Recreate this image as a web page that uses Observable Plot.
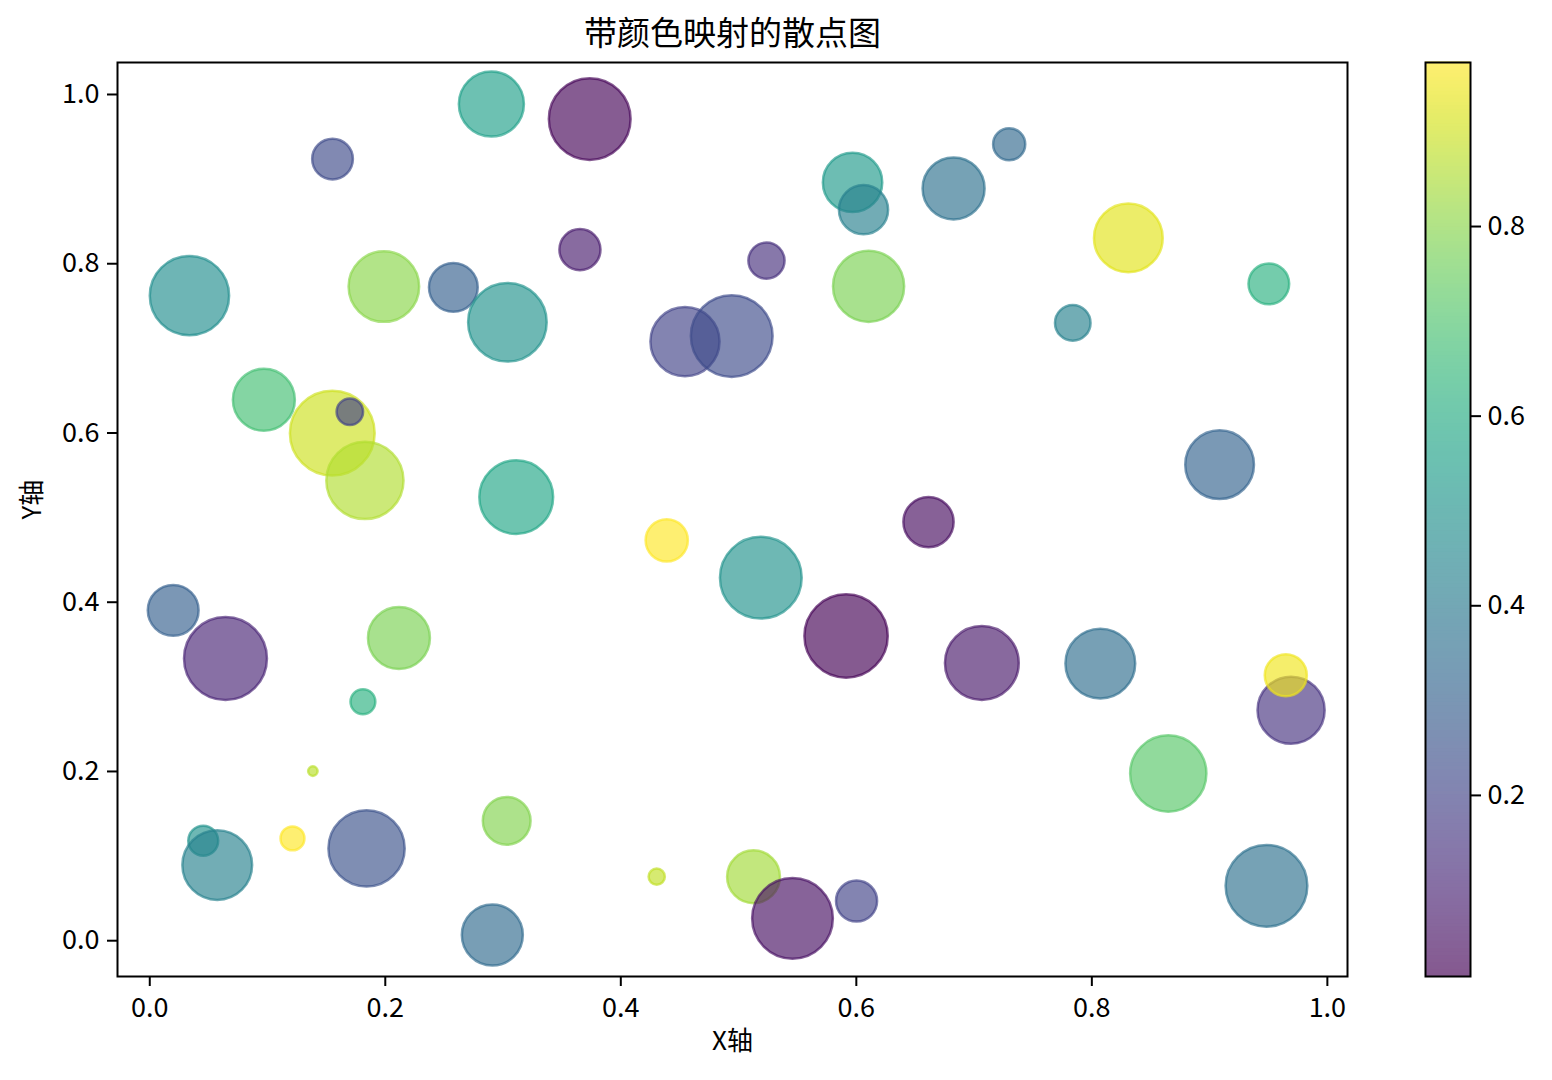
<!DOCTYPE html>
<html><head><meta charset="utf-8">
<script src="https://cdn.jsdelivr.net/npm/d3@7"></script>
<script src="https://cdn.jsdelivr.net/npm/@observablehq/plot@0.6"></script>
<style>
body{margin:0;background:#fff;}
#wrap{position:relative;width:1552px;height:1080px;background:#fff;}
#main{position:absolute;left:0;top:0;}
#cbar{position:absolute;left:1400px;top:0;}
</style></head><body><div id="wrap"><div id="main"></div><div id="cbar"></div></div>
<script>
// ---- data ----
const xs = [0.0337,0.1552,0.2901,0.1988,0.2578,0.3037,0.3736,0.5968,0.6061,0.6826,
            0.7298,0.3653,0.5237,0.6104,0.4545,0.4942,0.8310,0.9503,0.7838,0.0969,
            0.1550,0.1699,0.1827,0.0199,0.0643,0.2116,0.3112,0.1810,0.4390,0.5189,
            0.6613,0.5913,0.7066,0.9085,0.8072,0.9692,0.9647,0.8649,0.9483,0.1385,
            0.0454,0.0573,0.1212,0.1841,0.2909,0.3031,0.4305,0.5127,0.5458,0.6002];
const ys = [0.7623,0.9237,0.9887,0.7730,0.7721,0.7308,0.9710,0.8961,0.8639,0.8890,
            0.9412,0.8167,0.8037,0.7733,0.7080,0.7145,0.8305,0.7762,0.7301,0.6392,
            0.5998,0.6250,0.5439,0.3904,0.3334,0.3577,0.5242,0.2824,0.4731,0.4290,
            0.4947,0.3601,0.3282,0.5625,0.3275,0.2724,0.3137,0.1976,0.0649,0.2004,
            0.1181,0.0894,0.1209,0.1091,0.0067,0.1417,0.0756,0.0756,0.0264,0.0469];
const colors = [0.48,0.22,0.55,0.80,0.30,0.50,0.02,0.53,0.42,0.36,
                0.33,0.08,0.14,0.78,0.20,0.23,0.93,0.62,0.43,0.68,
                0.90,0.20,0.86,0.30,0.10,0.78,0.58,0.62,0.973,0.50,
                0.04,0.009,0.07,0.31,0.35,0.15,0.95,0.72,0.36,0.87,
                0.50,0.43,0.97,0.25,0.34,0.79,0.88,0.84,0.05,0.20];
const sizes = [835,220,562,661,316,820,887,468,321,510,
               137,224,174,672,634,887,627,220,168,510,
               954,93,792,343,913,510,723,82,237,887,
               335,922,723,627,646,598,235,772,887,12,
               119,646,76,772,494,303,35,371,865,224];
const title = "带颜色映射的散点图";
const xLabel = "X轴";
const yLabel = "Y轴";
const xTicks = [0, 0.2, 0.4, 0.6, 0.8, 1.0];
const yTicks = [0, 0.2, 0.4, 0.6, 0.8, 1.0];
const cbarTicks = [0.2, 0.4, 0.6, 0.8];

// ---- build ----
const alpha = 0.65;
const data = xs.map((x, i) => ({x, y: ys[i], c: colors[i], s: sizes[i]}));
const cMin = d3.min(colors), cMax = d3.max(colors);
const font = "'Noto Sans CJK SC', 'Noto Sans', sans-serif";
const colorScale = {type: "linear", scheme: "viridis", domain: [cMin, cMax]};
const fmt = d3.format(".1f");

const main = Plot.plot({
  width: 1400, height: 1080,
  marginLeft: 117, marginRight: 53, marginTop: 62, marginBottom: 104,
  style: {fontFamily: font, fontSize: "27px", color: "#000", background: "#fff", overflow: "visible"},
  x: {domain: [-0.0274, 1.0171]},
  y: {domain: [-0.0423, 1.0378]},
  r: {type: "sqrt", domain: [0, 1000], range: [0, 43.4]},
  color: colorScale,
  marks: [
    Plot.dot(data, {x: "x", y: "y", r: "s", fill: "c", stroke: "c",
      fillOpacity: alpha, strokeOpacity: alpha, strokeWidth: 2.5, sort: null}),
    Plot.frame({stroke: "#000", strokeWidth: 2}),
    Plot.axisX(xTicks, {tickSize: 10, tickPadding: 11, tickFormat: fmt, strokeWidth: 2, fontSize: 27, label: null}),
    Plot.axisY(yTicks, {tickSize: 10, tickPadding: 8, tickFormat: fmt, strokeWidth: 2, fontSize: 27, label: null}),
    Plot.text([title], {frameAnchor: "top", dy: -28, fontSize: 33, lineAnchor: "middle", text: d => d}),
    Plot.text([xLabel], {frameAnchor: "bottom", dy: 65, fontSize: 26, lineAnchor: "middle", text: d => d}),
    Plot.text([yLabel], {frameAnchor: "left", dx: -85, rotate: -90, fontSize: 26, lineAnchor: "middle", text: d => d})
  ]
});
document.getElementById("main").appendChild(main);

const N = 256;
const bands = d3.range(N).map(i => ({
  y1: cMin + (cMax - cMin) * i / N,
  y2: cMin + (cMax - cMin) * (i + 1) / N,
  v: cMin + (cMax - cMin) * (i + 0.5) / N
}));
const cbar = Plot.plot({
  width: 152, height: 1080,
  marginLeft: 25, marginRight: 82, marginTop: 62, marginBottom: 104,
  style: {fontFamily: font, fontSize: "27px", color: "#000", background: "transparent", overflow: "visible"},
  x: {domain: [0, 1], axis: null},
  y: {domain: [cMin, cMax]},
  color: colorScale,
  marks: [
    Plot.rect(bands, {x1: 0, x2: 1, y1: "y1", y2: "y2", fill: "v", insetTop: -0.6, insetBottom: -0.6}),
    Plot.frame({stroke: "#000", strokeWidth: 2}),
    Plot.axisY(cbarTicks, {anchor: "right", tickSize: 10, tickPadding: 7, tickFormat: fmt, strokeWidth: 2, fontSize: 27, label: null})
  ]
});
const rg = cbar.querySelector('g[aria-label="rect"]');
if (rg) rg.setAttribute("opacity", alpha);
document.getElementById("cbar").appendChild(cbar);
</script></body></html>
